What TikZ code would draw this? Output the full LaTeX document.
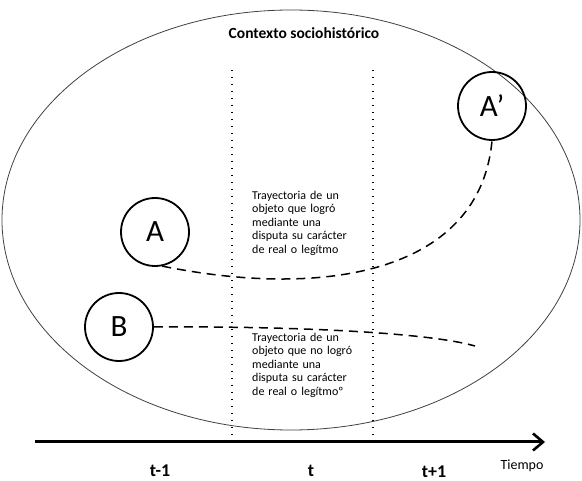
\documentclass[tikz,border=0pt]{standalone}
\usepackage{fontspec}
\setmainfont{Carlito}
\usetikzlibrary{arrows.meta,shapes.geometric}

\begin{document}
\begin{tikzpicture}[x=1pt,y=-1pt]
   \tikzstyle{letter}=[draw, circle, line width=1.8pt, minimum size=68pt, inner sep=0pt, font=\fontsize{31}{33}\selectfont]
   \tikzstyle{traj}=[line width=1.5pt, dash pattern=on 9pt off 6pt]
   \tikzstyle{period}=[line width=1.4pt, dash pattern=on 1.3pt off 5.7pt]
   \tikzstyle{note}=[align=left, text width=130pt, inner sep=0pt, anchor=north west, font=\fontsize{12}{13.4}\selectfont]
   \tikzstyle{tick}=[inner sep=0pt, font=\fontsize{18}{20}\selectfont\bfseries]
   \useasboundingbox (0,0) rectangle (582,481);

\node[draw=black!75, line width=0.8pt, ellipse, minimum width=578pt, minimum height=420pt, inner sep=0pt] (context) at (291,220) {};
\node[font=\fontsize{15.5}{17}\selectfont\bfseries] (title) at (304,33) {Contexto sociohistórico};

% periodos
\coordinate (d1top) at (232,70);
\coordinate (d1bot) at (232,442);
\coordinate (d2top) at (373,70);
\coordinate (d2bot) at (373,442);
\draw[period] (d1top) -- (d1bot);
\draw[period] (d2top) -- (d2bot);

\node[letter] (A) at (155,232) {A};
\node[letter] (Ap) at (492,106) {A’};
\node[letter] (B) at (119,327) {B};
\coordinate (Bend) at (475,346);

\draw[traj] (A.282) .. controls (330,300) and (480,270) .. (Ap.south);
\draw[traj] (B.east) .. controls (300,326) and (430,333) .. (Bend);

\node[note] (noteA) at (252,191) {Trayectoria de un\\objeto que logró\\mediante una\\disputa su carácter\\de real o legítmo};
\node[note] (noteB) at (252,333) {Trayectoria de un\\objeto que no logró\\mediante una\\disputa su carácter\\de real o legítmoº};

% eje del tiempo
\coordinate (t0) at (35,442);
\coordinate (t1) at (545,442);
\draw[line width=3pt, -{Straight Barb[length=10pt, width=17pt, line width=2.6pt]}] (t0) -- (t1);
\node[tick] (tm) at (160,471) {t-1};
\node[tick] (tc) at (311,471) {t};
\node[tick] (tp) at (434,472) {t+1};
\node[font=\fontsize{14}{16}\selectfont] (tiempo) at (522,466) {Tiempo};

\end{tikzpicture}
\end{document}
